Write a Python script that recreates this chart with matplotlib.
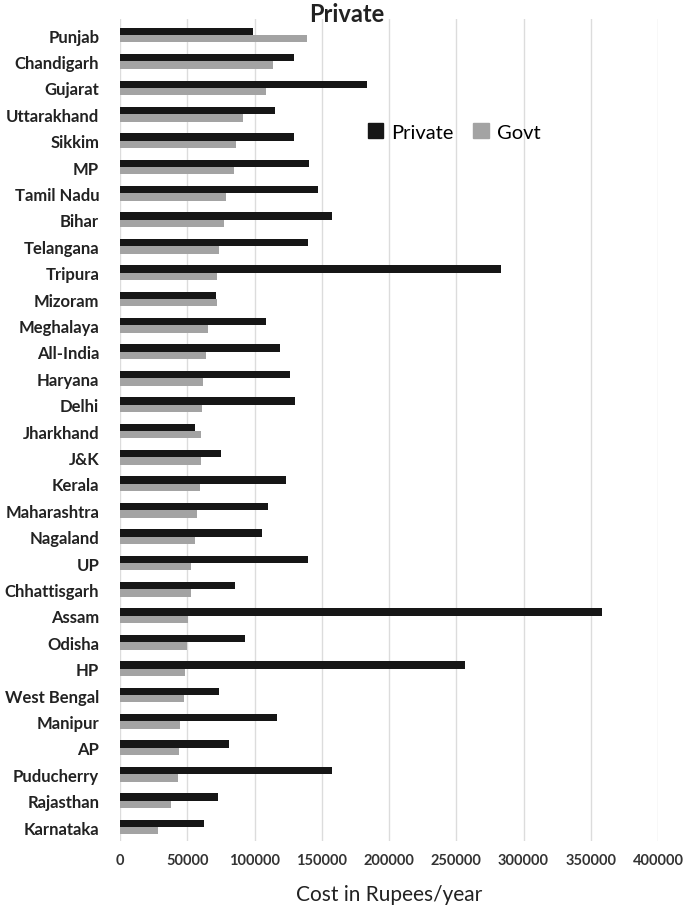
import matplotlib
matplotlib.use('Agg')
import matplotlib.pyplot as plt
from matplotlib.patches import Patch
import numpy as np

# states, top to bottom
states = ['Punjab', 'Chandigarh', 'Gujarat', 'Uttarakhand', 'Sikkim', 'MP',
          'Tamil Nadu', 'Bihar', 'Telangana', 'Tripura', 'Mizoram', 'Meghalaya',
          'All-India', 'Haryana', 'Delhi', 'Jharkhand', 'J&K', 'Kerala',
          'Maharashtra', 'Nagaland', 'UP', 'Chhattisgarh', 'Assam', 'Odisha',
          'HP', 'West Bengal', 'Manipur', 'AP', 'Puducherry', 'Rajasthan',
          'Karnataka']

private = [99000, 129300, 183300, 115100, 129300, 140700, 147400, 157400,
           140000, 283500, 71600, 108900, 118600, 126600, 130000, 55500,
           75100, 123300, 110400, 105900, 139500, 85500, 358000, 93200,
           256700, 73900, 117100, 81300, 157400, 72600, 62400]
govt = [139300, 113600, 108400, 91500, 86500, 84800, 78600, 77100,
        73900, 72400, 72400, 65600, 64200, 61900, 60900, 60200,
        60400, 59200, 57200, 55500, 53000, 53000, 50500, 49700,
        48000, 47500, 44300, 43500, 42800, 37600, 28300]

xticks = np.arange(0, 400001, 50000)

plt.rcParams['font.family'] = ['Lato', 'DejaVu Sans']

fig = plt.figure(figsize=(6.85, 9.12), dpi=100)
ax = fig.add_axes([120/685, 1 - 842/912, (658 - 120)/685, (842 - 20)/912])

n = len(states)
y = np.arange(n)
h = 0.28
ax.barh(y - h/2, private, height=h, color='#161616', zorder=3)
ax.barh(y + h/2, govt, height=h, color='#a3a3a3', zorder=3)

ax.set_xlim(0, 400000)
ax.set_ylim(n - 1 + 0.53, -0.61)
ax.set_yticks(y)
ax.set_yticklabels(states, fontsize=12, fontweight='bold', color='#222222')
ax.set_xticks(xticks)
ax.set_xticklabels([str(v) for v in xticks], fontsize=10.5, fontweight='bold',
                   color='#333333')
ax.tick_params(axis='both', length=0)
ax.tick_params(axis='y', pad=15)
ax.tick_params(axis='x', pad=9)
for s in ax.spines.values():
    s.set_visible(False)
ax.grid(axis='x', color='#dcdcdc', linewidth=1, zorder=0)
ax.set_xlabel('Cost in Rupees/year', fontsize=15, color='#222222', labelpad=12)

fig.text(347/685, 1 - 15/912, 'Private', ha='center', va='center',
         fontsize=17, fontweight='bold', color='#222222')

handles = [Patch(color='#161616'), Patch(color='#a3a3a3')]
fig.legend(handles, ['Private', 'Govt'], loc='center',
           bbox_to_anchor=(454/685, 1 - 133/912), ncol=2, frameon=False,
           fontsize=14.5, handlelength=0.75, handleheight=0.75, handletextpad=0.4,
           columnspacing=1.0)

fig.savefig('out.png', dpi=100)
